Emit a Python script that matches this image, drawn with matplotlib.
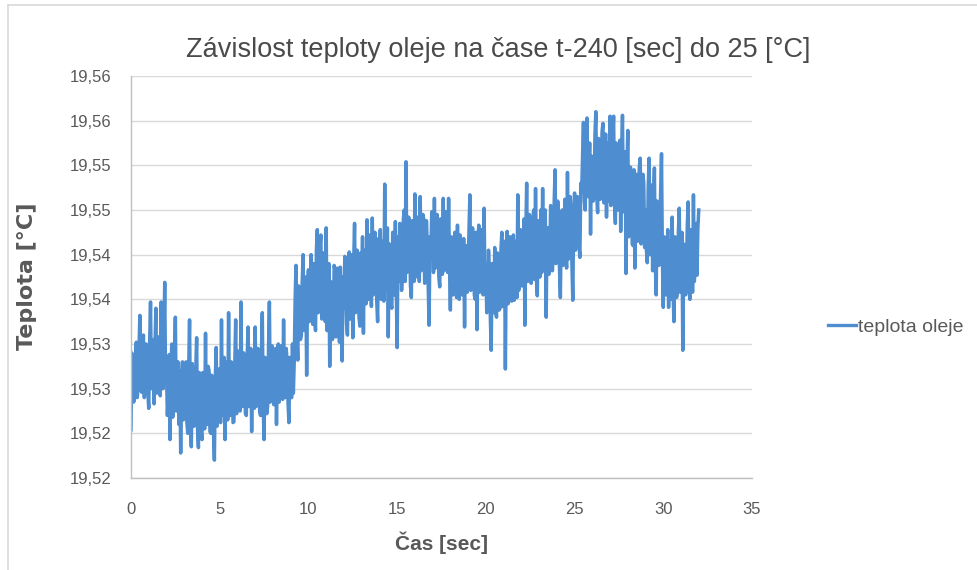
import numpy as np
import matplotlib
matplotlib.use("Agg")
import matplotlib.pyplot as plt
from matplotlib.lines import Line2D
from matplotlib import font_manager

# ---------------- data ----------------
title_text = "Závislost teploty oleje na čase t-240 [sec] do 25 [°C]"
x_label = "Čas [sec]"
y_label = "Teplota [°C]"
series_name = "teplota oleje"

sample_interval_s = 0.05
temperature_c = [
    # 0 s
    19.5254, 19.5340, 19.5330, 19.5285, 19.5290, 19.5335, 19.5352, 19.5290, 19.5300, 19.5345,
    19.5382, 19.5300, 19.5296, 19.5340, 19.5360, 19.5290, 19.5310, 19.5350, 19.5348, 19.5295,
    # 1 s
    19.5278, 19.5350, 19.5397, 19.5300, 19.5305, 19.5355, 19.5283, 19.5345, 19.5390, 19.5295,
    19.5312, 19.5358, 19.5340, 19.5292, 19.5397, 19.5310, 19.5300, 19.5350, 19.5419, 19.5305,
    # 2 s
    19.5320, 19.5270, 19.5290, 19.5338, 19.5243, 19.5325, 19.5350, 19.5268, 19.5285, 19.5335,
    19.5380, 19.5275, 19.5300, 19.5330, 19.5260, 19.5320, 19.5228, 19.5310, 19.5330, 19.5265,
    # 3 s
    19.5270, 19.5325, 19.5330, 19.5262, 19.5250, 19.5320, 19.5377, 19.5265, 19.5235, 19.5328,
    19.5310, 19.5258, 19.5260, 19.5322, 19.5357, 19.5255, 19.5234, 19.5318, 19.5300, 19.5252,
    # 4 s
    19.5243, 19.5318, 19.5290, 19.5255, 19.5362, 19.5262, 19.5260, 19.5325, 19.5320, 19.5252,
    19.5250, 19.5315, 19.5300, 19.5250, 19.5220, 19.5310, 19.5346, 19.5258, 19.5270, 19.5322,
    # 5 s
    19.5300, 19.5262, 19.5377, 19.5270, 19.5280, 19.5335, 19.5243, 19.5318, 19.5330, 19.5265,
    19.5385, 19.5275, 19.5270, 19.5330, 19.5320, 19.5262, 19.5263, 19.5328, 19.5377, 19.5272,
    # 6 s
    19.5290, 19.5342, 19.5330, 19.5275, 19.5397, 19.5285, 19.5280, 19.5340, 19.5320, 19.5272,
    19.5270, 19.5338, 19.5369, 19.5280, 19.5300, 19.5345, 19.5252, 19.5330, 19.5340, 19.5278,
    # 7 s
    19.5369, 19.5280, 19.5290, 19.5345, 19.5330, 19.5275, 19.5270, 19.5340, 19.5385, 19.5282,
    19.5243, 19.5335, 19.5310, 19.5272, 19.5280, 19.5345, 19.5397, 19.5285, 19.5300, 19.5348,
    # 8 s
    19.5340, 19.5282, 19.5290, 19.5345, 19.5260, 19.5330, 19.5350, 19.5285, 19.5300, 19.5348,
    19.5340, 19.5288, 19.5377, 19.5295, 19.5290, 19.5345, 19.5330, 19.5285, 19.5262, 19.5335,
    # 9 s
    19.5310, 19.5290, 19.5350, 19.5295, 19.5330, 19.5400, 19.5438, 19.5360, 19.5332, 19.5415,
    19.5400, 19.5355, 19.5360, 19.5420, 19.5450, 19.5365, 19.5370, 19.5425, 19.5315, 19.5410,
    # 10 s
    19.5433, 19.5375, 19.5380, 19.5450, 19.5410, 19.5372, 19.5440, 19.5380, 19.5365, 19.5455,
    19.5478, 19.5385, 19.5400, 19.5458, 19.5472, 19.5378, 19.5390, 19.5452, 19.5430, 19.5375,
    # 11 s
    19.5480, 19.5365, 19.5380, 19.5440, 19.5325, 19.5420, 19.5410, 19.5355, 19.5360, 19.5438,
    19.5433, 19.5358, 19.5370, 19.5435, 19.5400, 19.5352, 19.5436, 19.5372, 19.5331, 19.5425,
    # 12 s
    19.5390, 19.5448, 19.5420, 19.5372, 19.5360, 19.5445, 19.5453, 19.5378, 19.5380, 19.5450,
    19.5357, 19.5440, 19.5485, 19.5385, 19.5400, 19.5455, 19.5440, 19.5380, 19.5370, 19.5452,
    # 13 s
    19.5420, 19.5470, 19.5362, 19.5455, 19.5450, 19.5395, 19.5489, 19.5400, 19.5400, 19.5472,
    19.5440, 19.5392, 19.5491, 19.5405, 19.5410, 19.5475, 19.5450, 19.5398, 19.5375, 19.5468,
    # 14 s
    19.5430, 19.5478, 19.5400, 19.5465, 19.5460, 19.5398, 19.5529, 19.5420, 19.5410, 19.5480,
    19.5358, 19.5462, 19.5450, 19.5395, 19.5390, 19.5475, 19.5470, 19.5405, 19.5487, 19.5410,
    # 15 s
    19.5346, 19.5470, 19.5420, 19.5485, 19.5460, 19.5410, 19.5430, 19.5490, 19.5500, 19.5420,
    19.5554, 19.5430, 19.5440, 19.5492, 19.5480, 19.5415, 19.5402, 19.5488, 19.5470, 19.5420,
    # 16 s
    19.5518, 19.5425, 19.5430, 19.5492, 19.5480, 19.5420, 19.5515, 19.5432, 19.5440, 19.5495,
    19.5490, 19.5418, 19.5420, 19.5488, 19.5460, 19.5415, 19.5371, 19.5470, 19.5450, 19.5498,
    # 17 s
    19.5490, 19.5430, 19.5513, 19.5435, 19.5440, 19.5495, 19.5480, 19.5425, 19.5414, 19.5490,
    19.5470, 19.5428, 19.5513, 19.5432, 19.5440, 19.5498, 19.5490, 19.5430, 19.5513, 19.5440,
    # 18 s
    19.5388, 19.5470, 19.5460, 19.5405, 19.5420, 19.5475, 19.5450, 19.5402, 19.5483, 19.5410,
    19.5400, 19.5472, 19.5440, 19.5405, 19.5410, 19.5468, 19.5369, 19.5460, 19.5460, 19.5408,
    # 19 s
    19.5430, 19.5478, 19.5517, 19.5410, 19.5420, 19.5480, 19.5460, 19.5405, 19.5400, 19.5475,
    19.5366, 19.5462, 19.5483, 19.5408, 19.5420, 19.5478, 19.5450, 19.5405, 19.5502, 19.5415,
    # 20 s
    19.5440, 19.5385, 19.5400, 19.5455, 19.5430, 19.5382, 19.5343, 19.5440, 19.5420, 19.5385,
    19.5458, 19.5390, 19.5380, 19.5452, 19.5440, 19.5388, 19.5390, 19.5455, 19.5475, 19.5392,
    # 21 s
    19.5400, 19.5465, 19.5322, 19.5450, 19.5476, 19.5395, 19.5420, 19.5470, 19.5450, 19.5398,
    19.5410, 19.5472, 19.5399, 19.5465, 19.5460, 19.5402, 19.5517, 19.5410, 19.5420, 19.5478,
    # 22 s
    19.5460, 19.5415, 19.5430, 19.5490, 19.5371, 19.5470, 19.5530, 19.5420, 19.5450, 19.5495,
    19.5480, 19.5418, 19.5440, 19.5492, 19.5500, 19.5422, 19.5524, 19.5430, 19.5404, 19.5488,
    # 23 s
    19.5470, 19.5425, 19.5500, 19.5430, 19.5524, 19.5435, 19.5450, 19.5500, 19.5380, 19.5480,
    19.5480, 19.5428, 19.5440, 19.5505, 19.5500, 19.5432, 19.5460, 19.5508, 19.5545, 19.5440,
    # 24 s
    19.5470, 19.5510, 19.5490, 19.5435, 19.5402, 19.5490, 19.5500, 19.5438, 19.5450, 19.5512,
    19.5480, 19.5435, 19.5542, 19.5445, 19.5460, 19.5515, 19.5500, 19.5440, 19.5399, 19.5495,
    # 25 s
    19.5519, 19.5455, 19.5480, 19.5515, 19.5500, 19.5460, 19.5447, 19.5530, 19.5520, 19.5560,
    19.5598, 19.5510, 19.5500, 19.5570, 19.5603, 19.5515, 19.5530, 19.5575, 19.5473, 19.5560,
    # 26 s
    19.5560, 19.5510, 19.5520, 19.5585, 19.5610, 19.5515, 19.5497, 19.5580, 19.5570, 19.5512,
    19.5540, 19.5588, 19.5597, 19.5508, 19.5530, 19.5585, 19.5492, 19.5575, 19.5570, 19.5510,
    # 27 s
    19.5605, 19.5505, 19.5540, 19.5580, 19.5605, 19.5510, 19.5485, 19.5575, 19.5560, 19.5500,
    19.5520, 19.5578, 19.5476, 19.5560, 19.5606, 19.5498, 19.5530, 19.5565, 19.5429, 19.5545,
    # 28 s
    19.5589, 19.5470, 19.5480, 19.5548, 19.5520, 19.5462, 19.5460, 19.5545, 19.5435, 19.5530,
    19.5540, 19.5465, 19.5500, 19.5548, 19.5558, 19.5462, 19.5470, 19.5540, 19.5530, 19.5458,
    # 29 s
    19.5500, 19.5455, 19.5441, 19.5525, 19.5558, 19.5450, 19.5480, 19.5528, 19.5432, 19.5515,
    19.5547, 19.5440, 19.5405, 19.5510, 19.5500, 19.5438, 19.5460, 19.5520, 19.5563, 19.5445,
    # 30 s
    19.5391, 19.5470, 19.5460, 19.5405, 19.5420, 19.5478, 19.5391, 19.5465, 19.5450, 19.5400,
    19.5492, 19.5410, 19.5375, 19.5470, 19.5440, 19.5402, 19.5410, 19.5475, 19.5502, 19.5408,
    # 31 s
    19.5420, 19.5475, 19.5343, 19.5462, 19.5460, 19.5405, 19.5430, 19.5480, 19.5509, 19.5410,
    19.5400, 19.5478, 19.5470, 19.5408, 19.5517, 19.5420, 19.5440, 19.5485, 19.5427, 19.5480,
    # 32 s
    19.5500,
]

y_ticks = [19.520, 19.525, 19.530, 19.535, 19.540, 19.545, 19.550, 19.555, 19.560, 19.565]
y_tick_labels = ["19,52", "19,52", "19,53", "19,53", "19,54", "19,54", "19,55", "19,55", "19,56", "19,56"]
x_ticks = [0, 5, 10, 15, 20, 25, 30, 35]
x_tick_labels = ["0", "5", "10", "15", "20", "25", "30", "35"]

# ---------------- style ----------------
names = {f.name for f in font_manager.fontManager.ttflist}
narrow = "Liberation Sans Narrow" if "Liberation Sans Narrow" in names else "Liberation Sans"
line_color = "#4E8DCF"
grid_color = "#D9D9D9"
text_grey = "#595959"

time_s = np.arange(len(temperature_c)) * sample_interval_s

fig = plt.figure(figsize=(9.77, 5.70), dpi=100)
ax = fig.add_axes([131 / 977, 1 - 478 / 570, (752 - 131) / 977, (478 - 76) / 570])

line, = ax.plot(time_s, temperature_c, color=line_color, linewidth=2.5,
                label=series_name)

ax.set_xlim(0, 35)
ax.set_ylim(19.52, 19.565)
ax.set_xticks(x_ticks)
ax.set_xticklabels(x_tick_labels)
ax.set_yticks(y_ticks)
ax.set_yticklabels(y_tick_labels)

ax.grid(axis="y", color=grid_color, linewidth=1.0)
ax.set_axisbelow(True)
for s in ["top", "right"]:
    ax.spines[s].set_visible(False)
for s in ["left", "bottom"]:
    ax.spines[s].set_color("#BFBFBF")
    ax.spines[s].set_linewidth(1.0)

ax.tick_params(axis="both", length=0, labelcolor=text_grey)
ax.tick_params(axis="y", pad=14)
ax.tick_params(axis="x", pad=17)
for lbl in ax.get_xticklabels() + ax.get_yticklabels():
    lbl.set_fontfamily(narrow)
    lbl.set_fontsize(12)

fig.text(498 / 977, 1 - 50 / 570, title_text, ha="center", va="center",
         fontsize=19.5, color="#4A4A4A", fontfamily=narrow)
ax.set_xlabel(x_label, fontsize=15, color=text_grey, fontfamily=narrow,
              fontweight="bold", labelpad=11)
fig.text(27 / 977, 1 - 276 / 570, y_label, rotation=90, ha="center", va="center",
         fontsize=16, color=text_grey, fontweight="bold", fontfamily="DejaVu Sans")

leg = fig.legend(handles=[line], loc="center left",
                 bbox_to_anchor=(810 / 977, 1 - 327 / 570), frameon=False,
                 handlelength=1.45, handletextpad=0.12,
                 prop={"family": narrow, "size": 14})
for t in leg.get_texts():
    t.set_color(text_grey)
for h in leg.legend_handles:
    h.set_linewidth(2.4)

# outer chart-area frame
fig.add_artist(Line2D([8 / 977, 1.0], [1 - 5 / 570, 1 - 5 / 570], color=grid_color, linewidth=1.2))
fig.add_artist(Line2D([8 / 977, 8 / 977], [0.0, 1 - 5 / 570], color=grid_color, linewidth=1.2))

fig.savefig("out.png", dpi=100, facecolor="white")
